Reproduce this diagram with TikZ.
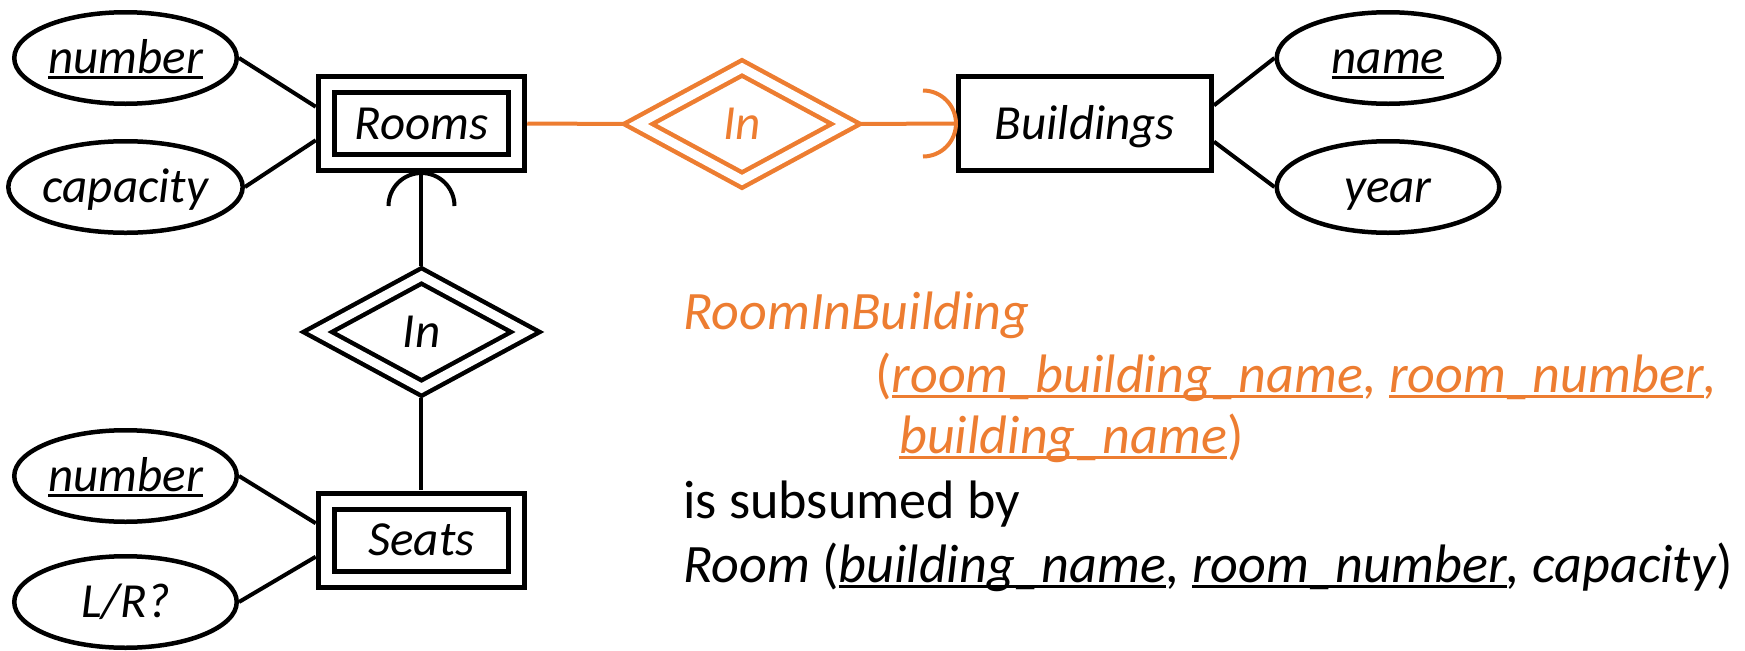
\documentclass[tikz,border=0pt]{standalone}
\usepackage{fontspec}
\setmainfont{Carlito}
\usetikzlibrary{shapes.geometric}
\definecolor{relorange}{HTML}{ED7D31}
\newcommand{\keyattr}[1]{\setbox0\hbox{#1}\rlap{\rule[-0.11em]{\wd0}{0.06em}}\box0}

\begin{document}
\begin{tikzpicture}[scale=0.2]
\tikzstyle{every node}+=[inner sep=0pt, font=\fontsize{27.9}{33}\selectfont\itshape]
\tikzstyle{ertext}=[text height=17.9pt, text depth=0pt]
\tikzstyle{attr}=[ertext, draw, ellipse, line width=0.09cm, minimum width=4.45cm, minimum height=1.83cm]
\tikzstyle{entity}=[ertext, draw, rectangle, line width=0.1cm, minimum width=5.06cm, minimum height=1.88cm]
\tikzstyle{weakentity}=[ertext, draw, rectangle, double, line width=0.1cm, double distance=0.22cm, minimum width=3.81cm, minimum height=1.56cm, outer sep=0.21cm]
\tikzstyle{idrel}=[ertext, draw, diamond, double, line width=0.09cm, double distance=0.18cm, minimum width=4.27cm, minimum height=2.36cm, outer sep=0.14cm]
\tikzstyle{conn}=[line width=0.08cm]
\tikzstyle{schema}=[anchor=base west, font=\fontsize{30.8}{36}\selectfont\itshape]
\useasboundingbox (0,0) rectangle (174.5,-65);
\node[weakentity] (rooms) at (42.15,-12.35) {Rooms};
\node[weakentity] (seats) at (42.15,-54) {Seats};
\node[entity] (buildings) at (108.5,-12.35) {Buildings};
\node[idrel, relorange] (rib) at (74.2,-12.4) {In};
\node[idrel] (sir) at (42.15,-33.2) {In};
\node[attr] (roomno) at (12.55,-5.8) {\keyattr{number}};
\node[attr] (capacity) at (12.55,-18.7) {capacity};
\node[attr] (seatno) at (12.55,-47.6) {\keyattr{number}};
\node[attr] (side) at (12.55,-60.2) {L/R?};
\node[attr] (bname) at (138.8,-5.8) {\keyattr{name}};
\node[attr] (byear) at (138.8,-18.7) {year};
\draw[conn] (roomno.east) -- (rooms.171);
\draw[conn] (capacity.east) -- (rooms.189);
\draw[conn] (seatno.east) -- (seats.171);
\draw[conn] (side.east) -- (seats.189);
\draw[conn] (bname.west) -- (buildings.8);
\draw[conn] (byear.west) -- (buildings.-8);
\draw[conn] (rooms.south) -- (sir.north);
\draw[conn] (sir.south) -- (seats.north);
\draw[conn] (rooms.south) ++(-3.3,-3.3) arc (180:0:3.3);
\draw[conn, relorange] (rooms.east) -- (rib.west);
\draw[conn, relorange] (rib.east) -- (buildings.west);
\draw[conn, relorange] (buildings.west) ++(-3.3,3.3) arc (90:-90:3.3);
\node[schema, relorange] (ribname) at (68.3,-32.9) {RoomInBuilding};
\node[schema, relorange] (ribcols) at (87.5,-39.2) {\textup{(}\keyattr{room\_building\_name}, \keyattr{room\_number},};
\node[schema, relorange] (ribcols2) at (89.9,-45.3) {\keyattr{building\_name}\textup{)}};
\node[schema] (subsumed) at (68.3,-51.8) {\upshape is subsumed by};
\node[schema] (roomrel) at (68.3,-58.2) {Room \textup{(}\keyattr{building\_name}, \keyattr{room\_number}, capacity\textup{)}};
\end{tikzpicture}
\end{document}
